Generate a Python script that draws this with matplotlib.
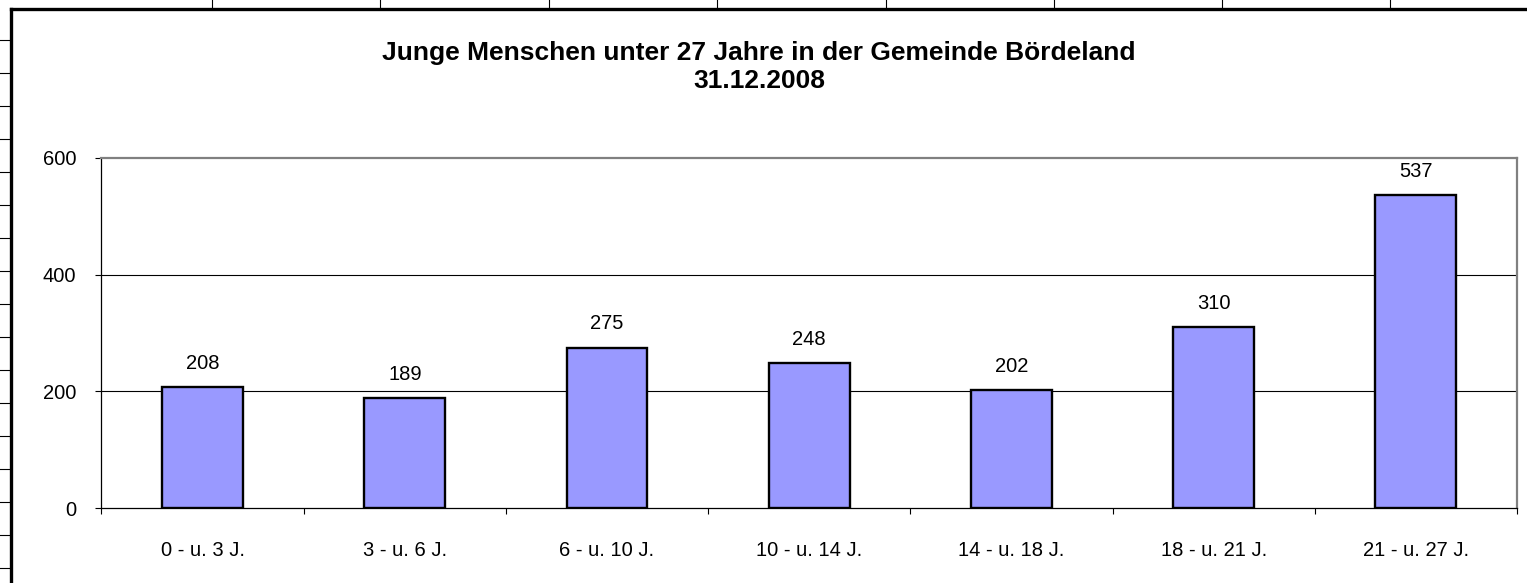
import numpy as np
import matplotlib.pyplot as plt
from matplotlib.lines import Line2D

categories = ['0 - u. 3 J.', '3 - u. 6 J.', '6 - u. 10 J.', '10 - u. 14 J.',
              '14 - u. 18 J.', '18 - u. 21 J.', '21 - u. 27 J.']
values = [208, 189, 275, 248, 202, 310, 537]
yticks = [0, 200, 400, 600]
title1 = 'Junge Menschen unter 27 Jahre in der Gemeinde Bördeland'
title2 = '31.12.2008'

plt.rcParams['font.family'] = ['Liberation Sans', 'DejaVu Sans']

W, H = 1527, 583
fig = plt.figure(figsize=(W / 100, H / 100), dpi=100)

# spreadsheet grid remnants around the chart object
def px_line(x0, y0, x1, y1, lw, color='black'):
    fig.add_artist(Line2D([x0 / W, x1 / W], [1 - y0 / H, 1 - y1 / H],
                          lw=lw, color=color, transform=fig.transFigure))

for cx in [212, 380, 549, 717, 886, 1054, 1222, 1390]:
    px_line(cx, 0, cx, 8, 0.8)
for ry in range(40, 583, 33):
    px_line(0, ry, 10, ry, 0.8)
px_line(11, 9, W, 9, 2.4)
px_line(11, 9, 11, H, 2.4)

ax = fig.add_axes([101.5 / W, 1 - 508 / H, (1517 - 101.5) / W, (508 - 158) / H])
x = np.arange(len(values))
bars = ax.bar(x, values, width=0.4, color='#9999FF', edgecolor='black', linewidth=1.7, zorder=3)
for xi, v in zip(x, values):
    ax.annotate(str(v), (xi, v), xytext=(0, 17), textcoords='offset points',
                ha='center', va='center', fontsize=14.5)

ax.set_xlim(-0.5, len(values) - 0.5)
ax.set_ylim(0, 600)
ax.set_yticks(yticks)
ax.set_yticklabels([str(t) for t in yticks], fontsize=14.5)
ax.set_xticks(x)
ax.set_xticklabels(categories, fontsize=14.5)
ax.set_xticks(np.arange(len(values) + 1) - 0.5, minor=True)
ax.tick_params(axis='x', which='major', length=0, pad=24)
ax.tick_params(axis='x', which='minor', length=4, width=0.8, direction='out')
ax.tick_params(axis='y', length=4, width=0.8, direction='out', pad=14)
for t in [200, 400]:
    ax.axhline(t, color='black', lw=0.8, zorder=1)
ax.spines['top'].set_color('#808080')
ax.spines['right'].set_color('#808080')
ax.spines['top'].set_linewidth(1.6)
ax.spines['right'].set_linewidth(1.6)
ax.spines['left'].set_linewidth(0.9)
ax.spines['bottom'].set_linewidth(0.9)

fig.text(759 / W, 1 - 53 / H, title1, ha='center', va='center', fontsize=19, fontweight='bold')
fig.text(759 / W, 1 - 81 / H, title2, ha='center', va='center', fontsize=19, fontweight='bold')

fig.savefig('out.png', dpi=100)
